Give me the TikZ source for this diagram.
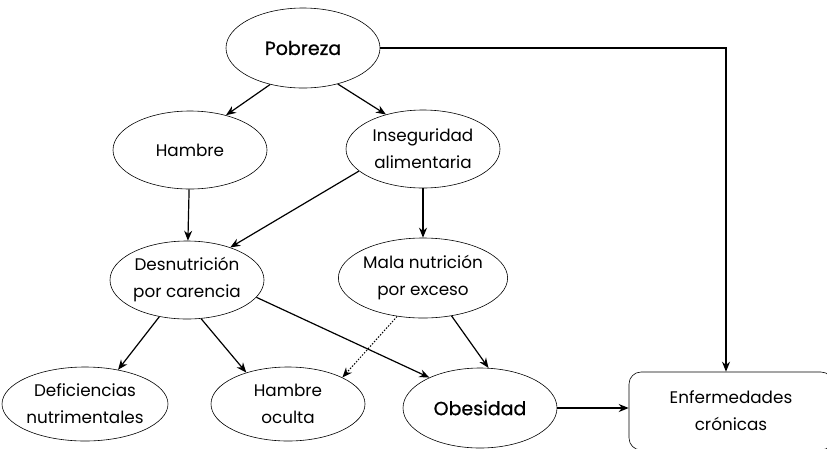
\documentclass[tikz,border=0pt]{standalone}
\usepackage{fontspec}
\setmainfont{Poppins}
\newfontfamily\medfont[FakeBold=0.7]{Poppins}
\usetikzlibrary{shapes.geometric,arrows.meta,calc}
\begin{document}
\begin{tikzpicture}[x=1pt,y=-1pt,
  ell/.style={draw,ellipse,line width=0.6pt,inner sep=0pt,minimum width=154pt,minimum height=78pt,align=center,font=\fontsize{16.8}{27}\selectfont},
  bigell/.style={ell,font=\fontsize{19}{27}\medfont},
  arr/.style={line width=1.2pt,-{Stealth[length=10pt,width=8pt]}},
  dotarr/.style={arr,line width=1pt,dash pattern=on 1.5pt off 1.5pt}
]
\useasboundingbox (0,0) rectangle (827,448);
\node[bigell,minimum width=154pt,minimum height=80pt] (pob) at (303,48) {Pobreza};
\node[ell] (ham) at (190,150) {Hambre};
\node[ell] (ins) at (423,149) {Inseguridad\\alimentaria};
\node[ell] (des) at (187,280) {Desnutrición\\por carencia};
\node[ell,minimum height=80pt] (mal) at (423,278) {Mala nutrición\\por exceso};
\node[ell,minimum width=166pt,minimum height=74pt] (def) at (85,404) {Deficiencias\\nutrimentales};
\node[ell,minimum height=74pt] (hoc) at (288,404) {Hambre\\oculta};
\node[bigell,minimum height=80pt] (obe) at (480,408) {Obesidad};
\node[draw,line width=0.6pt,rounded corners=12pt,minimum width=204pt,minimum height=78pt,align=center,font=\fontsize{16.8}{27}\selectfont] (enf) at (731,411) {Enfermedades\\crónicas};

\draw[arr] (pob.228) -- (ham.44);
\draw[arr] (pob.314) -- (ins.137);
\draw[arr] (ham) -- (des);
\draw[arr] (ins) -- (mal);
\draw[arr] (ins.199) -- (des.37);
\draw[arr] (des.233) -- (def.46);
\draw[arr] (des.290) -- (hoc.143);
\draw[arr] (des.346) -- (obe.149);
\draw[dotarr] (mal.236) -- (hoc.26);
\draw[arr] (mal.307) -- (obe.78);
\draw[arr] (obe.east) -- (obe.east -| enf.west);
\coordinate (enftop) at ([xshift=-5pt]enf.north);
\draw[arr] (pob.east) -| (enftop);
\end{tikzpicture}
\end{document}
